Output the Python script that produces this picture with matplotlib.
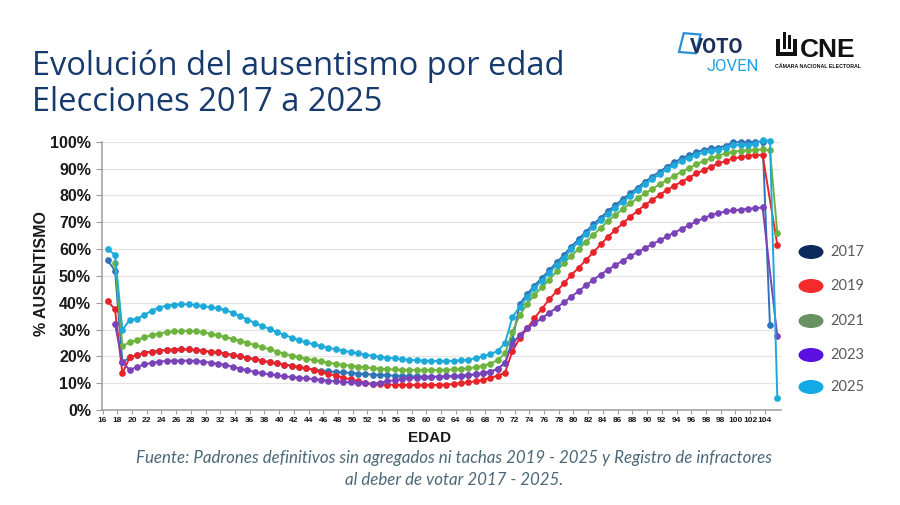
import matplotlib
matplotlib.use('Agg')
import matplotlib.pyplot as plt
from matplotlib.patches import Circle, Rectangle, Polygon
from matplotlib.ticker import FuncFormatter

# ---------------- data ----------------
x_labels = ['16', '18', '20', '22', '24', '26', '28', '30', '32', '34', '36', '38', '40',
            '42', '44', '46', '48', '50', '52', '54', '56', '58', '60', '62', '64', '66',
            '68', '70', '72', '74', '76', '78', '80', '82', '84', '86', '88', '90', '92',
            '94', '96', '98', '98', '100', '102', '104']

series_names = ['2017', '2019', '2021', '2023', '2025']

v2017 = [55.8, 51.9, 17.8,
         19.6, 20.5, 21.4, 21.7, 22.1, 22.4, 22.5, 22.6, 22.6, 22.4, 22.1, 21.7, 21.5, 21.0,
         20.5, 20.0, 19.5, 18.9, 18.4, 17.8, 17.4, 16.9, 16.5, 16.0, 15.5, 15.0, 14.7, 14.4,
         14.2, 14.0, 13.8, 13.6, 13.4, 13.2, 13.1, 12.9, 12.8, 12.7, 12.6, 12.5, 12.4, 12.4,
         12.4, 12.5, 12.6, 12.8, 13.0, 13.3, 13.7, 14.3, 15.3, 17.6,
         26.0, 39.5, 43.2, 46.4, 49.2, 52.1, 55.0, 57.8, 60.9, 63.7, 66.5, 69.2, 71.7, 74.2,
         76.4, 78.6, 80.7, 82.9, 85.1, 87.0, 88.8, 90.7, 92.3, 93.8, 95.0, 96.0, 97.0, 97.5,
         97.8, 98.5, 99.8, 99.8, 99.8, 100.0, 100.0, 31.5, None]

v2019 = [40.6, 37.5, 13.7,
         19.6, 20.5, 21.4, 21.7, 22.1, 22.4, 22.5, 22.6, 22.6, 22.4, 22.1, 21.7, 21.5, 21.0,
         20.5, 20.0, 19.5, 18.9, 18.4, 17.8, 17.4, 16.9, 16.5, 16.0, 15.5, 15.0, 14.2, 13.5,
         12.8, 12.1, 11.4, 10.8, 10.2, 9.7, 9.6, 9.5, 9.4, 9.3, 9.3, 9.3, 9.3, 9.3,
         9.4, 9.5, 9.7, 10.0, 10.3, 10.7, 11.2, 12.0, 12.8, 13.9,
         22.0, 26.7, 30.4, 34.2, 37.7, 41.2, 44.2, 47.2, 50.3, 53.0, 55.9, 58.8, 61.7, 64.6,
         67.1, 69.6, 72.0, 74.2, 76.4, 78.3, 80.1, 82.0, 83.6, 85.1, 86.6, 88.2, 89.4, 90.7,
         91.9, 92.8, 93.8, 94.2, 94.7, 95.0, 95.0, None, 61.5]

v2021 = [None, 54.7, 23.9,
         25.2, 26.1, 27.1, 28.0, 28.5, 29.0, 29.3, 29.5, 29.5, 29.3, 28.9, 28.4, 27.8, 27.2,
         26.5, 25.8, 25.0, 24.2, 23.4, 22.6, 21.8, 21.0, 20.3, 19.7, 19.1, 18.6, 18.1, 17.6,
         17.2, 16.8, 16.5, 16.2, 15.9, 15.6, 15.4, 15.2, 15.1, 15.0, 14.9, 14.9, 14.9, 14.9,
         14.9, 15.0, 15.1, 15.3, 15.6, 15.9, 16.5, 17.3, 18.6, 21.1,
         29.2, 35.4, 39.5, 42.9, 45.7, 48.5, 51.7, 54.9, 57.4, 60.0, 62.7, 65.2, 67.9, 70.4,
         72.7, 74.9, 77.0, 78.9, 80.7, 82.4, 84.1, 85.7, 87.3, 88.8, 90.1, 91.6, 92.8, 93.8,
         94.8, 95.7, 96.3, 96.6, 96.9, 97.0, 97.1, 96.8, 66.0]

v2023 = [None, 32.0, 17.8,
         14.9, 16.1, 17.0, 17.6, 18.0, 18.3, 18.4, 18.4, 18.4, 18.3, 18.0, 17.6, 17.3, 16.8,
         16.1, 15.4, 14.8, 14.2, 13.7, 13.3, 12.9, 12.5, 12.3, 12.0, 11.8, 11.5, 11.2, 10.9,
         10.7, 10.5, 10.3, 10.1, 9.9, 9.7, 10.2, 10.7, 11.1, 11.5, 11.8, 12.1, 12.3, 12.4,
         12.4, 12.5, 12.6, 12.8, 13.0, 13.3, 13.7, 14.3, 15.3, 17.6,
         24.6, 28.0, 30.4, 32.3, 34.2, 36.2, 38.1, 40.1, 42.2, 44.3, 46.5, 48.5, 50.5, 52.3,
         54.0, 55.7, 57.3, 58.9, 60.3, 61.8, 63.2, 64.7, 66.1, 67.5, 68.9, 70.3, 71.5, 72.6,
         73.4, 74.0, 74.4, 74.7, 75.0, 75.2, 75.5, None, 27.5]

v2025 = [59.9, 57.8, 29.8,
         33.6, 33.9, 35.5, 37.0, 38.2, 38.9, 39.3, 39.4, 39.4, 39.1, 38.7, 38.3, 37.9, 37.3,
         36.2, 35.0, 33.7, 32.5, 31.3, 30.2, 29.1, 28.0, 27.0, 26.0, 25.2, 24.5, 23.8, 23.2,
         22.6, 22.1, 21.6, 21.1, 20.6, 20.2, 19.8, 19.5, 19.2, 18.9, 18.7, 18.5, 18.4, 18.3,
         18.2, 18.2, 18.3, 18.5, 18.8, 19.3, 20.0, 20.8, 22.0, 25.0,
         34.6, 38.5, 42.2, 45.4, 48.2, 51.1, 54.0, 56.8, 59.9, 62.7, 65.5, 68.2, 70.7, 73.2,
         75.4, 77.6, 79.7, 81.9, 84.1, 86.0, 87.8, 89.7, 91.3, 92.8, 94.0, 95.0, 96.0, 96.5,
         96.8, 97.5, 98.8, 98.8, 98.8, 99.2, 100.6, 100.4, 4.5]

values = [v2017, v2019, v2021, v2023, v2025]
line_colors = ['#2e74b8', '#e8232a', '#6db33f', '#7a42b8', '#1eaad9']
legend_colors = ['#0c2b5c', '#f52a2a', '#6a9163', '#5a10e0', '#12a9e6']

# ---------------- figure ----------------
W, H = 900, 505
fig = plt.figure(figsize=(W / 100, H / 100), dpi=100)
fig.patch.set_facecolor('white')


def fx(x):
    return x / W


def fy(y):
    return 1 - y / H


NARROW = ['Liberation Sans Narrow', 'Liberation Sans', 'DejaVu Sans']

ax = fig.add_axes([fx(102), fy(410), fx(781) - fx(102), fy(141.7) - fy(410)])
ax.set_facecolor('white')

zorders = [2, 3, 4, 5, 6]
for vals, col, z in zip(values, line_colors, zorders):
    xs = [i for i, v in enumerate(vals) if v is not None]
    ys = [v for v in vals if v is not None]
    ax.plot(xs, ys, color=col, lw=1.4, marker='o', ms=3.8, mec=col, mfc=col,
            zorder=z, clip_on=False)

ax.set_xlim(-0.77, 91.5)
ax.set_ylim(0, 100)
ax.set_yticks(range(0, 101, 10))
ax.yaxis.set_major_formatter(FuncFormatter(lambda v, p: f'{int(v)}%'))
ax.set_xticks([2 * k - 0.7 for k in range(len(x_labels))])
ax.set_xticklabels(x_labels)

ax.yaxis.grid(True, color='#e4e4e4', lw=0.9)
ax.set_axisbelow(True)
for s in ['top', 'right']:
    ax.spines[s].set_visible(False)
for s in ['left', 'bottom']:
    ax.spines[s].set_color('#9c9c9c')
    ax.spines[s].set_linewidth(1.1)

ax.tick_params(axis='x', length=3, width=0.8, color='#9c9c9c', pad=2)
ax.tick_params(axis='y', length=4, width=0.8, color='#9c9c9c', pad=4)
for lab in ax.get_xticklabels():
    lab.set_fontfamily(NARROW)
    lab.set_fontweight('bold')
    lab.set_fontsize(6)
    lab.set_color('#1a1a1a')
for lab in ax.get_yticklabels():
    lab.set_fontfamily(NARROW)
    lab.set_fontweight('bold')
    lab.set_fontsize(11.5)
    lab.set_color('#1a1a1a')

fig.text(fx(41), fy(274), '% AUSENTISMO', rotation=90, ha='center', va='center',
         fontsize=11.5, fontweight='bold', family=['Liberation Sans', 'DejaVu Sans'],
         color='#1a1a1a')
fig.text(fx(430), fy(438), 'EDAD', ha='center', va='center', fontsize=11,
         fontweight='bold', family=['Liberation Sans', 'DejaVu Sans'], color='#1a1a1a')

# source
fig.text(fx(454), fy(458), 'Fuente: Padrones definitivos sin agregados ni tachas 2019 - 2025 y Registro de infractores',
         ha='center', va='center', fontsize=12.2, style='italic', family=['Lato', 'DejaVu Sans'],
         color='#4c6878')
fig.text(fx(454), fy(480), 'al deber de votar 2017 - 2025.',
         ha='center', va='center', fontsize=12.2, style='italic', family=['Lato', 'DejaVu Sans'],
         color='#4c6878')

# title
fig.text(fx(32), fy(75), 'Evolución del ausentismo por edad', ha='left', va='baseline',
         fontsize=23.5, family=['Open Sans', 'DejaVu Sans'], color='#163a6e')
fig.text(fx(32), fy(111), 'Elecciones 2017 a 2025', ha='left', va='baseline',
         fontsize=23.5, family=['Open Sans', 'DejaVu Sans'], color='#163a6e')

# legend
leg_y = [252, 286, 321, 355, 387]
for name, col, yy in zip(series_names, legend_colors, leg_y):
    fig.patches.append(Circle((fx(811), fy(yy)), radius=12.5 / W, transform=fig.transFigure,
                              facecolor=col, edgecolor='none'))
    fig.text(fx(830), fy(yy), name, ha='left', va='center', fontsize=10.5,
             family=['Lato', 'DejaVu Sans'], color='#5a5a5a')

# logos (approximation)
fig.patches.append(Rectangle((fx(679), fy(52)), 17 / W, 19 / H, transform=fig.transFigure,
                             facecolor='none', edgecolor='#2a8fd6', lw=1.6, angle=-8))
fig.text(fx(690), fy(53), 'VOTO', ha='left', va='baseline', fontsize=14.5, fontweight='bold',
         family=['Roboto', 'DejaVu Sans'], color='#1d2f5c')
fig.text(fx(707), fy(71), 'JOVEN', ha='left', va='baseline', fontsize=12,
         family=['Roboto', 'DejaVu Sans'], color='#22a3e3')
fig.patches.append(Polygon([(fx(776), fy(56)), (fx(776), fy(39)), (fx(780), fy(39)), (fx(780), fy(52)),
                            (fx(793), fy(52)), (fx(793), fy(39)), (fx(797), fy(39)), (fx(797), fy(56))],
                           closed=True, transform=fig.transFigure, facecolor='#111111'))
fig.patches.append(Rectangle((fx(783), fy(49)), 3 / W, 17 / H, transform=fig.transFigure,
                             facecolor='#111111'))
fig.patches.append(Rectangle((fx(788), fy(49)), 3 / W, 14 / H, transform=fig.transFigure,
                             facecolor='#111111'))
fig.text(fx(800), fy(57), 'CNE', ha='left', va='baseline', fontsize=19, fontweight='bold',
         family=['Liberation Sans', 'DejaVu Sans'], color='#111111')
fig.text(fx(775), fy(68), 'CÁMARA NACIONAL ELECTORAL', ha='left', va='baseline', fontsize=3.8,
         fontweight='bold', family=['Liberation Sans', 'DejaVu Sans'], color='#111111')

fig.savefig('out.png', dpi=100, facecolor='white')
